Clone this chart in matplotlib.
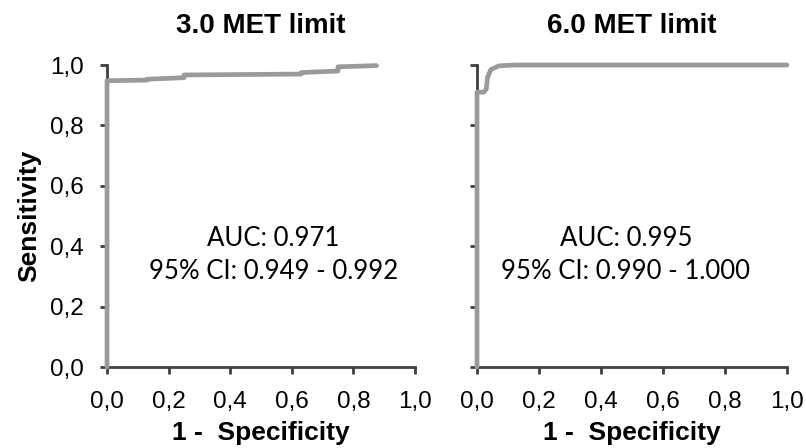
import matplotlib
matplotlib.use('Agg')
import matplotlib.pyplot as plt
import numpy as np

# ROC curves (1 - specificity, sensitivity)
fpr_3 = [0.0, 0.0, 0.13, 0.13, 0.25, 0.25, 0.63, 0.63, 0.75, 0.75, 0.875]
tpr_3 = [0.0, 0.948, 0.950, 0.953, 0.958, 0.967, 0.970, 0.975, 0.980, 0.994, 0.998]

fpr_6 = [0.0, 0.0, 0.022, 0.030, 0.034, 0.045, 0.07, 0.12, 1.0]
tpr_6 = [0.0, 0.91, 0.91, 0.92, 0.96, 0.985, 0.997, 1.0, 1.0]

titles = ['3.0 MET limit', '6.0 MET limit']
auc_text = ['AUC: 0.971\n95% CI: 0.949 - 0.992',
            'AUC: 0.995\n95% CI: 0.990 - 1.000']
text_x = [0.54, 0.48]
ticks = [0.0, 0.2, 0.4, 0.6, 0.8, 1.0]
tick_labels = ['0,0', '0,2', '0,4', '0,6', '0,8', '1,0']

plt.rcParams['font.family'] = ['Liberation Sans', 'DejaVu Sans']

fig = plt.figure(figsize=(8.06, 4.48), dpi=100)
ax1 = fig.add_axes([0.1328, 0.1808, 0.3821, 0.6741])
ax2 = fig.add_axes([0.5918, 0.1808, 0.3846, 0.6741])

spine_col = '#404040'
curve_col = '#9a9a9a'

for ax, fx, ty, title, txt, tx, show_y in zip(
        [ax1, ax2], [fpr_3, fpr_6], [tpr_3, tpr_6], titles, auc_text, text_x,
        [True, False]):
    ax.plot(fx, ty, color=curve_col, lw=3.4, solid_capstyle='round',
            solid_joinstyle='round', zorder=5, clip_on=False)
    ax.set_xlim(0, 1)
    ax.set_ylim(0, 1)
    ax.spines['top'].set_visible(False)
    ax.spines['right'].set_visible(False)
    for s in ['left', 'bottom']:
        ax.spines[s].set_color(spine_col)
        ax.spines[s].set_linewidth(2.0)
    ax.set_xticks(ticks)
    ax.set_xticklabels(tick_labels)
    ax.set_yticks(ticks)
    if show_y:
        ax.set_yticklabels(tick_labels)
        ax.set_ylabel('Sensitivity', fontsize=19, fontweight='bold', labelpad=6)
    else:
        ax.set_yticklabels([])
    ax.tick_params(direction='out', length=5, width=2.0, color=spine_col,
                   labelsize=17.5, pad=12)
    ax.set_xlabel('1 -  Specificity', fontsize=19, fontweight='bold', labelpad=6)
    ax.set_title(title, fontsize=20, fontweight='bold', pad=23)
    ax.text(tx, 0.37, txt, transform=ax.transAxes, ha='center', va='center',
            fontsize=18.5, family=['Lato', 'DejaVu Sans'], linespacing=1.4)

fig.savefig('out.png', dpi=100)
